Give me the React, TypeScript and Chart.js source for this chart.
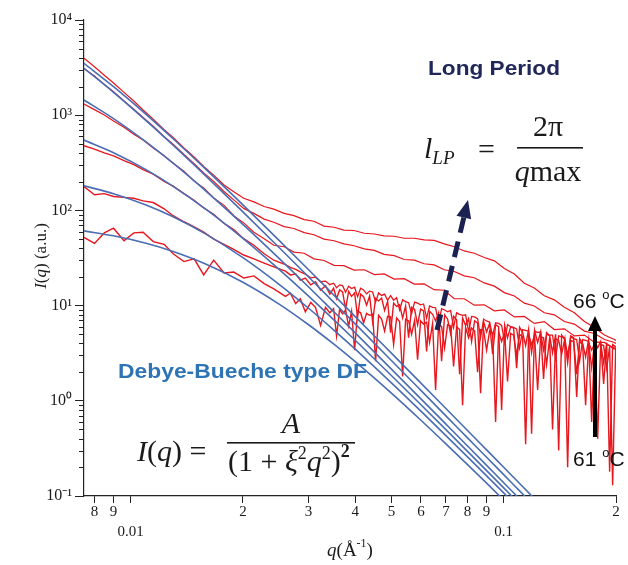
import React, { useEffect, useRef } from "react";
import { Chart, registerables } from "chart.js";

Chart.register(...registerables);

// ---------- data ----------
const qA = [0.0075, 0.0080, 0.0085, 0.0090, 0.0096, 0.0102, 0.0108, 0.0115, 0.0123, 0.0130, 0.0139, 0.0148, 0.0157, 0.0167, 0.0178, 0.0189, 0.0201, 0.0214, 0.0228, 0.0242, 0.0258, 0.0274, 0.0292, 0.0310, 0.0330, 0.0351, 0.0373, 0.0397, 0.0423, 0.0450, 0.0478, 0.0509, 0.0541, 0.0576, 0.0612, 0.0651, 0.0693, 0.0737, 0.0784, 0.0834, 0.0887, 0.0944, 0.1004, 0.1068, 0.1136, 0.1208, 0.1285, 0.1367, 0.1454, 0.1547, 0.1646, 0.1751, 0.1862, 0.1981, 0.2000];

const qE = [0.0075, 0.0080, 0.0085, 0.0090, 0.0096, 0.0102, 0.0108, 0.0115, 0.0123, 0.0130, 0.0139, 0.0148, 0.0157, 0.0167, 0.0178, 0.0189, 0.0201, 0.0214, 0.0228, 0.0242,
  0.0260, 0.0268, 0.0277, 0.0285, 0.0294, 0.0304, 0.0313, 0.0323, 0.0333, 0.0342,
  0.03500, 0.03565, 0.03632, 0.03700, 0.03769, 0.03840, 0.03911, 0.03985, 0.04059, 0.04135,
  0.04212, 0.04291, 0.04371, 0.04453, 0.04536, 0.04621, 0.04707, 0.04795, 0.04885, 0.04976,
  0.05069, 0.05164, 0.05260, 0.05359, 0.05459, 0.05561, 0.05665, 0.05771, 0.05878, 0.05988,
  0.06100, 0.06214, 0.06330, 0.06448, 0.06569, 0.06692, 0.06817, 0.06944, 0.07074, 0.07206,
  0.07341, 0.07478, 0.07618, 0.07760, 0.07905, 0.08053, 0.08203, 0.08357, 0.08513, 0.08672,
  0.08834, 0.08999, 0.09167, 0.09338, 0.09513, 0.09691, 0.09872, 0.1006, 0.1024, 0.1044,
  0.1063, 0.1083, 0.1103, 0.1124, 0.1145, 0.1166, 0.1188, 0.1210, 0.1233, 0.1256,
  0.1279, 0.1303, 0.1328, 0.1352, 0.1378, 0.1404, 0.1430, 0.1457, 0.1484, 0.1512,
  0.1540, 0.1569, 0.1598, 0.1628, 0.1658, 0.1689, 0.1721, 0.1753, 0.1786, 0.1819,
  0.1853, 0.1888, 0.1923, 0.1959, 0.1996];

// measured curves (66 °C ... 61 °C)
const red1 = [3960, 3230, 2630, 2180, 1735, 1410, 1135, 910, 705, 585, 452, 365, 290, 235, 185, 157, 134, 123, 110, 103, 93, 88, 80, 77, 68.5, 66.5, 62, 61.5, 57.5, 56.5, 54, 53.5, 51, 51, 49, 48.5, 44.5, 41.5, 37.5, 35.5, 32, 29.5, 24.5, 21.5, 17.2, 15.3, 12.7, 11.5, 9.6, 8.4, 6.8, 5.9, 4.9, 4.4, 4.3];
const red2 = [3080, 2590, 2100, 1770, 1415, 1155, 945, 765, 596, 495, 386, 310, 248, 202, 158, 129, 105, 93, 81, 75, 67.5, 64.5, 58.5, 55.5, 50, 48, 44.5, 42.5, 39.5, 38, 34.5, 33.5, 30.5, 30, 27.5, 26.8, 23.8, 22.8, 20.5, 19.6, 17.3, 16, 13.7, 12.6, 10.6, 9.9, 8.4, 8.0, 6.8, 6.4, 5.4, 5.1, 4.4, 4.1, 4.0];
const red3 = [1310, 1145, 1005, 868, 748, 632, 548, 452, 375, 313, 258, 203, 172, 135, 113, 88, 74, 59, 50.5, 43, 41.5, 36.5, 35.5, 31, 29.8, 26.5, 26.3, 23.6, 23.8, 21.2, 21.5, 19, 19.2, 16.8, 16.9, 14.7, 14.5, 11.8, 11.8, 10.1, 10.2, 8.8, 9.0, 7.6, 7.7, 6.5, 6.8, 5.6, 5.7, 4.8, 4.9, 4.1, 4.1, 3.5, 3.6];
const red4 = [478, 440, 402, 374, 333, 303, 268, 240, 201, 180, 150, 128, 106, 91, 73, 63, 50.5, 43, 35, 30,
  27, 25.2, 24, 22.6, 21.4, 19.6, 19.9, 17.8, 18.1, 16.6,
  17.2, 15.4, 16.5, 16.2, 13.8, 16.0, 15.1, 15.6, 12.4, 15.2,
  14.6, 13.3, 14.2, 13.9, 10.9, 13.6, 12.8, 13.2, 11.4, 12.7,
  11.4, 12.1, 9.0, 11.5, 11.0, 10.7, 8.2, 10.9, 10.6, 10.2,
  10.4, 7.4, 9.9, 9.6, 9.5, 6.5, 9.3, 9.0, 8.6, 8.9,
  5.9, 8.4, 8.1, 7.9, 8.0, 5.3, 7.7, 7.6, 7.3, 4.6,
  7.2, 6.9, 6.7, 4.8, 6.6, 6.5, 6.2, 4.1, 6.3, 6.0,
  5.9, 5.7, 3.6, 5.6, 5.5, 5.4, 3.2, 5.4, 5.2, 5.3,
  3.4, 5.0, 4.9, 4.9, 2.8, 4.8, 4.7, 4.6, 3.0, 4.7,
  4.5, 4.4, 2.6, 4.4, 4.3, 4.2, 2.2, 4.2, 4.1, 4.1,
  2.5, 3.9, 3.8, 3.6, 3.7];
const red5 = [178, 146, 150, 140, 137, 134, 126, 121, 104, 88, 76, 67, 59, 50, 44, 39, 34, 31, 28, 25.5,
  23, 21, 21.5, 18.5, 19.5, 16.5, 17.8, 14.5, 16.2, 13.2,
  15.2, 11.8, 14.6, 13.9, 9.2, 14.1, 12.5, 13.6, 7.6, 13.2,
  12.4, 10.1, 12.6, 6.8, 11.9, 11.2, 12.0, 8.9, 11.1, 5.2,
  10.6, 9.8, 10.2, 7.4, 9.9, 4.6, 9.6, 9.1, 6.3, 9.2,
  8.8, 3.3, 8.7, 8.1, 6.9, 8.4, 2.6, 8.0, 7.2, 5.1,
  7.7, 7.1, 1.9, 7.4, 6.2, 7.3, 4.2, 6.9, 6.6, 1.2,
  6.8, 5.3, 6.5, 3.1, 6.3, 6.0, 0.8, 6.2, 4.6, 6.0,
  5.8, 2.2, 5.9, 5.2, 3.8, 5.6, 0.45, 5.5, 4.1, 5.3,
  1.7, 5.2, 4.8, 3.2, 5.0, 0.3, 4.9, 4.4, 2.5, 4.8,
  4.6, 1.1, 4.5, 4.0, 2.9, 4.4, 0.6, 4.3, 3.6, 4.2,
  1.5, 4.1, 0.18, 3.9, 3.7];
const red6 = [52, 45, 58, 65, 48, 58, 59, 47, 44, 35, 29, 31, 21, 30, 22, 22.5, 19.5, 20.5, 17, 15,
  12.5, 13.5, 10.5, 11.8, 8.6, 10.8, 9.6, 6.2, 9.6, 8.4,
  9.3, 4.8, 9.1, 8.2, 9.0, 6.1, 8.7, 3.4, 8.8, 8.4,
  6.6, 8.3, 7.9, 8.1, 2.6, 7.9, 7.2, 5.4, 7.7, 7.6,
  3.9, 7.4, 6.8, 1.8, 7.2, 6.9, 5.0, 7.0, 2.7, 6.9,
  6.4, 6.7, 4.1, 6.5, 1.3, 6.4, 6.0, 3.6, 6.3, 6.1,
  2.3, 6.0, 5.6, 0.9, 5.9, 4.6, 5.8, 5.4, 2.0, 5.6,
  5.5, 3.4, 5.4, 5.1, 0.6, 5.3, 4.2, 5.2, 1.6, 5.1,
  4.9, 3.0, 5.0, 4.7, 0.35, 4.9, 3.9, 4.8, 1.3, 4.7,
  4.6, 2.4, 4.6, 0.5, 4.5, 4.3, 3.1, 4.4, 0.2, 4.3,
  4.2, 1.9, 4.2, 3.9, 0.9, 4.1, 3.4, 4.0, 0.4, 3.9,
  3.8, 2.2, 3.7, 0.13, 3.6];

// Debye-Bueche fits
const qFit = [0.0075, 0.009, 0.011, 0.013, 0.016, 0.02, 0.025, 0.03, 0.035, 0.04, 0.05, 0.06, 0.07, 0.08, 0.09, 0.1, 0.11, 0.12, 0.13];
const fit1 = [3510, 1993, 1020, 566, 265, 114.3, 48.4, 23.8, 12.98, 7.67, 3.167, 1.535, 0.830, 0.4875, 0.305, 0.2002, 0.1369, 0.0967, 0.0702];
const fit2 = [3110, 1741, 879, 484.7, 225, 96.6, 40.8, 19.98, 10.89, 6.43, 2.654, 1.285, 0.6954, 0.408, 0.2551, 0.1675, 0.1145, 0.0809, 0.0588];
const fit3 = [1445, 921.6, 524.4, 312.9, 156.7, 71.2, 31.28, 15.68, 8.664, 5.162, 2.153, 1.0485, 0.5692, 0.3352, 0.2099, 0.1378, 0.0943, 0.0667, 0.0485];
const fit4 = [548, 404.1, 267.9, 179.1, 101.2, 50.8, 24.0, 12.55, 7.13, 4.326, 1.844, 0.909, 0.4975, 0.2941, 0.1848, 0.1218, 0.0834, 0.0591, 0.043];
const fit5 = [181, 149.7, 113.9, 85.7, 55.65, 31.89, 16.75, 9.377, 5.567, 3.483, 1.545, 0.778, 0.4314, 0.2573, 0.1627, 0.1077, 0.0740, 0.0525, 0.0383];
const fit6 = [61.0, 54.05, 45.14, 37.07, 27.08, 17.60, 10.37, 6.29, 3.952, 2.575, 1.2025, 0.6246, 0.3533, 0.2137, 0.1363, 0.0908, 0.0628, 0.0447, 0.0327];

const xTickValues = [0.008, 0.009, 0.01, 0.02, 0.03, 0.04, 0.05, 0.06, 0.07, 0.08, 0.09, 0.1, 0.2];
const xTickLabels: (string | string[])[] = ["8", "9", ["", "0.01"], "2", "3", "4", "5", "6", "7", "8", "9", ["", "0.1"], "2"];
const yTickValues = [0.1, 1, 10, 100, 1000, 10000];
const yTickLabels = ["10\u207B\u00B9", "10\u2070", "10\u00B9", "10\u00B2", "10\u00B3", "10\u2074"];

// ---------- styling ----------
const SERIF = '"Liberation Serif", "Times New Roman", serif';
const SANS = '"Liberation Sans", Arial, sans-serif';
const RED = "#e8161d";
const BLUE = "#4a6db3";

type Run = { t: string; f: string; dy?: number };

function drawRuns(ctx: CanvasRenderingContext2D, runs: Run[], x: number, y: number, align: "left" | "center" = "left") {
  let total = 0;
  for (const r of runs) {
    ctx.font = r.f;
    total += ctx.measureText(r.t).width;
  }
  let cx = align === "center" ? x - total / 2 : x;
  for (const r of runs) {
    ctx.font = r.f;
    ctx.fillText(r.t, cx, y + (r.dy || 0));
    cx += ctx.measureText(r.t).width;
  }
  return total;
}

function fitText(ctx: CanvasRenderingContext2D, text: string, font: string, x: number, baseline: number, width: number) {
  ctx.font = font;
  const w = ctx.measureText(text).width;
  ctx.save();
  ctx.translate(x, baseline);
  ctx.scale(width / w, 1);
  ctx.fillText(text, 0, 0);
  ctx.restore();
}

const annotPlugin = {
  id: "annot",
  afterDraw(chart: any) {
    const ctx: CanvasRenderingContext2D = chart.ctx;
    const ys = chart.scales.y;
    const area = chart.chartArea;
    ctx.save();
    ctx.textBaseline = "alphabetic";
    ctx.textAlign = "left";

    // minor ticks on y axis
    ctx.strokeStyle = "#222";
    ctx.lineWidth = 1;
    for (const dec of yTickValues.slice(0, -1)) {
      for (let k = 2; k <= 9; k++) {
        const py = Math.round(ys.getPixelForValue(dec * k)) + 0.5;
        ctx.beginPath();
        ctx.moveTo(area.left - 5, py);
        ctx.lineTo(area.left, py);
        ctx.stroke();
      }
    }

    // axis titles
    ctx.fillStyle = "#1a1a1a";
    ctx.save();
    ctx.translate(46, 256);
    ctx.rotate(-Math.PI / 2);
    drawRuns(ctx, [
      { t: "I", f: `italic 17px ${SERIF}` },
      { t: "(", f: `17px ${SERIF}` },
      { t: "q", f: `italic 17px ${SERIF}` },
      { t: ") (a.u.)", f: `17px ${SERIF}` },
    ], 0, 0, "center");
    ctx.restore();
    drawRuns(ctx, [
      { t: "q", f: `italic 19px ${SERIF}` },
      { t: "(\u00C5", f: `19px ${SERIF}` },
      { t: "-1", f: `12px ${SERIF}`, dy: -9 },
      { t: ")", f: `19px ${SERIF}` },
    ], 350, 556, "center");

    // Long Period
    ctx.fillStyle = "#20285a";
    fitText(ctx, "Long Period", `bold 21px ${SANS}`, 428, 75, 132);

    // l_LP = 2pi / q_max
    ctx.fillStyle = "#1a1a1a";
    drawRuns(ctx, [
      { t: "l", f: `italic 30px ${SERIF}` },
      { t: "LP", f: `italic 19px ${SERIF}`, dy: 6 },
    ], 424, 158);
    ctx.font = `30px ${SERIF}`;
    ctx.fillText("=", 478, 159);
    drawRuns(ctx, [{ t: "2\u03C0", f: `30px ${SERIF}` }], 548, 136, "center");
    ctx.fillRect(517, 147, 66, 1.6);
    drawRuns(ctx, [
      { t: "q", f: `italic 30px ${SERIF}` },
      { t: "max", f: `30px ${SERIF}` },
    ], 548, 181, "center");

    // dashed arrow
    const tip = { x: 468, y: 200 };
    const tail = { x: 437, y: 330 };
    const dx = tip.x - tail.x, dy = tip.y - tail.y;
    const len = Math.hypot(dx, dy);
    const ux = dx / len, uy = dy / len;
    const hl = 18, hw = 7.5;
    const bx = tip.x - ux * hl, by = tip.y - uy * hl;
    ctx.strokeStyle = "#1b2150";
    ctx.fillStyle = "#1b2150";
    ctx.lineWidth = 5;
    ctx.setLineDash([16, 9]);
    ctx.beginPath();
    ctx.moveTo(tail.x, tail.y);
    ctx.lineTo(bx, by);
    ctx.stroke();
    ctx.setLineDash([]);
    ctx.beginPath();
    ctx.moveTo(tip.x, tip.y);
    ctx.lineTo(bx - uy * hw, by + ux * hw);
    ctx.lineTo(bx + uy * hw, by - ux * hw);
    ctx.closePath();
    ctx.fill();

    // Debye-Bueche label
    ctx.fillStyle = "#2e74b5";
    fitText(ctx, "Debye-Bueche type DF", `bold 21px ${SANS}`, 118, 378, 249);

    // I(q) = A / (1 + xi^2 q^2)^2
    ctx.fillStyle = "#1a1a1a";
    drawRuns(ctx, [
      { t: "I", f: `italic 30px ${SERIF}` },
      { t: "(", f: `30px ${SERIF}` },
      { t: "q", f: `italic 30px ${SERIF}` },
      { t: ") =", f: `30px ${SERIF}` },
    ], 137, 461);
    drawRuns(ctx, [{ t: "A", f: `italic 30px ${SERIF}` }], 291, 433, "center");
    ctx.fillRect(227, 442, 128, 1.6);
    drawRuns(ctx, [
      { t: "(1 + ", f: `30px ${SERIF}` },
      { t: "\u03BE", f: `italic 30px ${SERIF}` },
      { t: "2", f: `18px ${SERIF}`, dy: -12 },
      { t: "q", f: `italic 30px ${SERIF}` },
      { t: "2", f: `18px ${SERIF}`, dy: -12 },
      { t: ")", f: `30px ${SERIF}` },
      { t: "2", f: `bold 18px ${SERIF}`, dy: -14 },
    ], 228, 471);

    // temperature arrow
    ctx.fillStyle = "#000";
    ctx.fillRect(593, 330, 4, 107);
    ctx.beginPath();
    ctx.moveTo(595, 316);
    ctx.lineTo(588, 331);
    ctx.lineTo(602, 331);
    ctx.closePath();
    ctx.fill();
    ctx.fillStyle = "#111";
    drawRuns(ctx, [
      { t: "66 ", f: `21px ${SANS}` },
      { t: "o", f: `13px ${SANS}`, dy: -9 },
      { t: "C", f: `21px ${SANS}` },
    ], 573, 308);
    drawRuns(ctx, [
      { t: "61 ", f: `21px ${SANS}` },
      { t: "o", f: `13px ${SANS}`, dy: -9 },
      { t: "C", f: `21px ${SANS}` },
    ], 573, 466);

    ctx.restore();
  },
};

function pts(xs: number[], ys: number[]) {
  return xs.map((x, i) => ({ x, y: ys[i] }));
}

export default function App() {
  const ref = useRef<HTMLCanvasElement>(null);

  useEffect(() => {
    const reds = [
      [qA, red1, 1.2], [qA, red2, 1.2], [qA, red3, 1.2], [qE, red4, 1.3], [qE, red5, 1.4], [qE, red6, 1.4],
    ].map(([xs, ys, w]) => ({
      data: pts(xs as number[], ys as number[]),
      borderColor: RED,
      borderWidth: w as number,
      pointRadius: 0,
      tension: 0,
      fill: false,
      order: 2,
    }));
    const blues = [fit1, fit2, fit3, fit4, fit5, fit6].map((ys) => ({
      data: pts(qFit, ys),
      borderColor: BLUE,
      borderWidth: 1.6,
      pointRadius: 0,
      cubicInterpolationMode: "monotone" as const,
      fill: false,
      order: 1,
    }));

    const chart = new Chart(ref.current as HTMLCanvasElement, {
      type: "line",
      data: { datasets: [...blues, ...reds] as any },
      options: {
        responsive: false,
        animation: false,
        events: [],
        layout: { padding: { left: 0, top: 20, right: 12, bottom: 0 } },
        plugins: { legend: { display: false }, tooltip: { enabled: false } },
        scales: {
          x: {
            type: "logarithmic",
            min: 0.0075,
            max: 0.2,
            bounds: "data",
            afterBuildTicks: (s: any) => {
              s.ticks = xTickValues.map((v) => ({ value: v }));
            },
            afterFit: (s: any) => {
              s.height = 69;
            },
            grid: { display: true, drawOnChartArea: false, drawTicks: true, tickLength: 7, tickColor: "#222", tickWidth: 1 },
            border: { display: true, color: "#222", width: 1.2 },
            ticks: {
              autoSkip: false,
              maxRotation: 0,
              minRotation: 0,
              padding: -1,
              color: "#1a1a1a",
              font: { family: SERIF, size: 15, lineHeight: 1.35 },
              callback: (_v: any, i: number) => xTickLabels[i],
            },
          } as any,
          y: {
            type: "logarithmic",
            min: 0.1,
            max: 10000,
            bounds: "data",
            afterBuildTicks: (s: any) => {
              s.ticks = yTickValues.map((v) => ({ value: v }));
            },
            afterFit: (s: any) => {
              s.width = 84;
            },
            grid: { display: true, drawOnChartArea: false, drawTicks: true, tickLength: 9, tickColor: "#222", tickWidth: 1 },
            border: { display: true, color: "#222", width: 1.2 },
            ticks: {
              autoSkip: false,
              padding: 3,
              color: "#1a1a1a",
              font: { family: SERIF, size: 16 },
              callback: (_v: any, i: number) => yTickLabels[i],
            },
          } as any,
        },
      },
      plugins: [annotPlugin],
    });
    return () => chart.destroy();
  }, []);

  return (
    <div style={{ position: "fixed", left: 0, top: 0, width: 628, height: 565, background: "#fff" }}>
      <canvas ref={ref} width={628} height={565} style={{ display: "block", width: 628, height: 565 }} />
    </div>
  );
}
